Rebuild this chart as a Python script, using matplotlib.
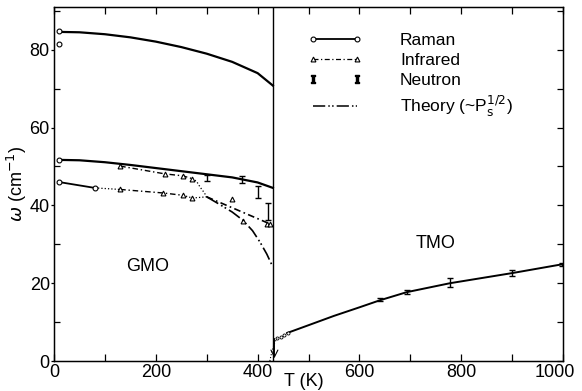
import numpy as np
import matplotlib.pyplot as plt
from matplotlib.lines import Line2D
from matplotlib.transforms import ScaledTranslation

plt.rcParams['font.family'] = ['Liberation Sans', 'DejaVu Sans']
plt.rcParams['font.size'] = 12.5

# GMO, Raman (solid curves, open circles)
raman_top_T = [10, 50, 100, 150, 200, 250, 300, 350, 400, 430]
raman_top_w = [84.6, 84.5, 84.0, 83.2, 82.1, 80.7, 79.0, 76.9, 74.0, 70.8]
raman_top_pts_T = [10, 10]
raman_top_pts_w = [84.8, 81.5]
raman_mid_T = [10, 50, 100, 150, 200, 250, 300, 350, 400, 430]
raman_mid_w = [51.7, 51.6, 51.1, 50.4, 49.6, 48.8, 48.0, 47.2, 45.9, 44.5]
raman_lo_T = [10, 80]
raman_lo_w = [46.0, 44.5]
raman_lo_dot_T = [80, 130]
raman_lo_dot_w = [44.5, 44.1]

# GMO, infrared (triangles)
ir_hi_T = [130, 218, 253, 271]
ir_hi_w = [50.1, 48.1, 47.6, 46.9]
ir_hi_dot_T = [271, 280, 287, 295, 300]
ir_hi_dot_w = [46.9, 46.2, 44.7, 43.3, 42.2]
ir_lo_T = [130, 214, 253, 272]
ir_lo_w = [44.1, 43.2, 42.6, 41.9]
ir_lo_dot_T = [253, 272, 300]
ir_lo_dot_w = [42.6, 41.9, 42.2]
ir_hot_T = [350, 372, 418, 425]
ir_hot_w = [41.6, 36.0, 35.2, 35.2]
ir_line_T = [300, 425]
ir_line_w = [42.2, 35.2]

# GMO, theory soft mode
soft_T = [300, 326, 350, 371, 390, 405, 418, 428]
soft_w = [42.2, 40.2, 38.3, 36.2, 33.5, 30.5, 27.5, 24.7]

# neutron
nGMO_T = [300, 369, 401, 420]
nGMO_w = [47.0, 46.7, 43.5, 38.4]
nGMO_err = [0.85, 0.9, 1.6, 2.2]
nTMO_T = [640, 693, 778, 900, 998]
nTMO_w = [15.7, 17.8, 20.2, 22.6, 24.9]
nTMO_err = [0.4, 0.5, 1.2, 0.8, 0.4]

# TMO
tmo_T = [458, 502, 550, 600, 640, 693, 778, 900, 1000]
tmo_w = [7.2, 9.3, 11.6, 13.8, 15.6, 17.7, 20.0, 22.6, 24.9]
tmo_pts_T = [438, 445, 452, 459]
tmo_pts_w = [5.9, 6.3, 6.8, 7.2]
tmo_dot_T = [424, 428, 433, 438]
tmo_dot_w = [0.0, 2.4, 4.5, 5.9]

Tc = 430

dashdot = (0, (4, 2, 1, 2))
theory = (0, (8, 2, 1, 1.5, 1, 2))
circ = dict(marker='o', ms=3.5, mfc='white', mec='k', mew=0.8, ls='none')
tri = dict(marker='^', ms=3.5, mfc='white', mec='k', mew=0.8, ls='none')

fig = plt.figure(figsize=(5.82, 3.91), dpi=100)
ax = fig.add_axes([0.0928, 0.0767, 0.8746, 0.9054])

ax.plot(raman_top_T, raman_top_w, color='k', lw=1.6)
ax.plot(raman_top_pts_T, raman_top_pts_w, **circ)
ax.plot(raman_mid_T, raman_mid_w, color='k', lw=1.6)
ax.plot(raman_mid_T[:1], raman_mid_w[:1], **circ)
ax.plot(raman_lo_T, raman_lo_w, color='k', lw=1.3)
ax.plot(raman_lo_dot_T, raman_lo_dot_w, color='k', lw=0.9, ls=':')
ax.plot(raman_lo_T, raman_lo_w, **circ)

ax.plot(ir_hi_T, ir_hi_w, color='k', lw=1.0, ls=dashdot)
ax.plot(ir_hi_dot_T, ir_hi_dot_w, color='k', lw=0.9, ls=':')
ax.plot(ir_hi_T, ir_hi_w, **tri)
ax.plot(ir_lo_T[:3], ir_lo_w[:3], color='k', lw=1.0, ls=dashdot)
ax.plot(ir_lo_dot_T, ir_lo_dot_w, color='k', lw=0.9, ls=':')
ax.plot(ir_lo_T, ir_lo_w, **tri)
ax.plot(ir_line_T, ir_line_w, color='k', lw=1.2, ls=dashdot)
ax.plot(ir_hot_T, ir_hot_w, **tri)

ax.plot(soft_T, soft_w, color='k', lw=1.2, ls=theory)

ax.errorbar(nGMO_T, nGMO_w, yerr=nGMO_err, fmt='none', ecolor='k', elinewidth=1.0, capsize=2.5)
ax.errorbar(nTMO_T, nTMO_w, yerr=nTMO_err, fmt='none', ecolor='k', elinewidth=1.0, capsize=2.5)

ax.plot(tmo_T, tmo_w, color='k', lw=1.4)
ax.plot(tmo_pts_T, tmo_pts_w, marker='o', ms=2.2, mfc='white', mec='k', mew=0.6, ls='none')
ax.plot(tmo_dot_T, tmo_dot_w, color='k', lw=0.8, ls=':')

ax.axvline(Tc, color='k', lw=1.0)
ax.annotate('', xy=(Tc + 3, 0), xytext=(Tc + 3, 6.5),
            arrowprops=dict(arrowstyle='->', color='k', lw=0.8))

ax.text(183, 24.2, 'GMO', ha='center', va='center', fontsize=13)
ax.text(749, 30.3, 'TMO', ha='center', va='center', fontsize=13)

ax.set_xlim(0, 1000)
ax.set_ylim(0, 91)
ax.set_xticks([0, 200, 400, 600, 800, 1000])
ax.set_xticks(np.arange(100, 1000, 200), minor=True)
ax.set_yticks([0, 20, 40, 60, 80])
ax.set_yticks([10, 30, 50, 70, 90], minor=True)
ax.tick_params(axis='x', which='both', direction='in', top=True, length=5, width=0.9, pad=2, labelsize=13)
ax.tick_params(axis='y', which='major', direction='out', length=2.5, width=0.9, pad=0.5, labelsize=13)
ax.tick_params(axis='y', which='minor', direction='in', length=4.5, width=0.9)
for s in ax.spines.values():
    s.set_linewidth(1.0)
last = ax.get_xticklabels()[-1]
last.set_transform(last.get_transform() + ScaledTranslation(-6 / 72, 0, fig.dpi_scale_trans))

ax2 = ax.twinx()
ax2.set_ylim(0, 91)
ax2.set_yticks(np.arange(0, 91, 10))
ax2.tick_params(axis='y', direction='in', length=4.5, width=0.9, labelright=False)

ax.set_ylabel(r'$\omega$ (cm$^{-1}$)', fontsize=13)
ax.yaxis.set_label_coords(-0.05, 0.5)
ax.set_xlabel('T (K)', fontsize=13)
ax.xaxis.set_label_coords(0.49, -0.035)

handles = [
    Line2D([], [], color='k', lw=1.3, marker='o', ms=3.5, mfc='white', mew=0.8),
    Line2D([], [], color='k', lw=0.9, ls=dashdot, marker='^', ms=3.5, mfc='white', mew=0.8),
    Line2D([], [], ls='none', color='k', marker=r'$\mathtt{I}$', ms=5.5),
    Line2D([], [], color='k', lw=1.1, ls=theory),
]
labels = ['Raman', 'Infrared', 'Neutron', r'Theory (~P$_\mathrm{s}^{1/2}$)']
ax.legend(handles, labels, loc='upper left', bbox_to_anchor=(0.499, 0.928), frameon=False,
          numpoints=2, handlelength=3.1, handletextpad=2.2, labelspacing=0.3,
          borderpad=0, borderaxespad=0, fontsize=12.5)

fig.savefig('out.png', dpi=100)
